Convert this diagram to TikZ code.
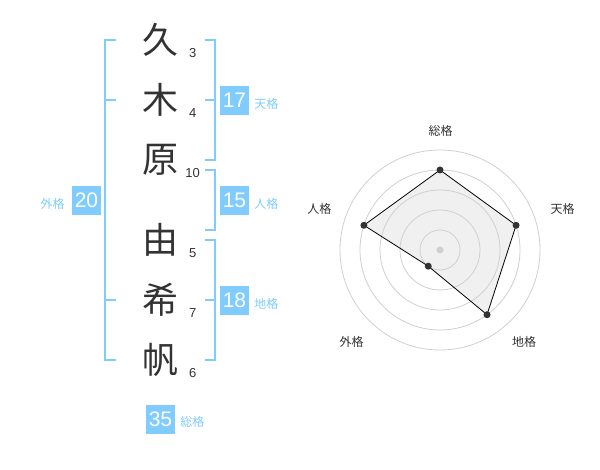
\documentclass[tikz,border=0pt]{standalone}
\usepackage{fontspec}
\setmainfont{Liberation Sans}
\newfontfamily\jp{Noto Sans CJK JP}
\usetikzlibrary{positioning}
\definecolor{celeste}{HTML}{80CCFF}
\definecolor{tinta}{HTML}{333333}
\definecolor{anillo}{HTML}{D0D0D0}

\begin{document}
\begin{tikzpicture}[x=1pt, y=-1pt,
    kanji/.style={font=\jp\fontsize{36}{36}\selectfont, text=tinta, inner sep=0pt},
    trazo/.style={font=\fontsize{13}{13}\selectfont, text=tinta, inner sep=0pt},
    caja/.style={fill=celeste, text=white, minimum size=29pt, inner sep=0pt, font=\fontsize{21}{21}\selectfont},
    etiqueta/.style={font=\jp\fontsize{12}{12}\selectfont, text=celeste, inner sep=0pt, yshift=-3pt},
    llave/.style={draw=celeste, line width=2pt},
    eje/.style={font=\jp\fontsize{12}{12}\selectfont, text=tinta, inner sep=0pt}]
              \useasboundingbox[fill=white] (0,0) rectangle (600,470);
              % Nombre
              \node[kanji] (k1) at (160,40) {久};
              \node[kanji] (k2) at (160,100) {木};
              \node[kanji] (k3) at (160,160) {原};
              \node[kanji] (k4) at (160,240) {由};
              \node[kanji] (k5) at (160,300) {希};
              \node[kanji] (k6) at (160,360) {帆};
              \node[trazo] (n1) at (192.7,52.7) {3};
              \node[trazo] (n2) at (192.7,112.7) {4};
              \node[trazo] (n3) at (192.7,172.7) {10};
              \node[trazo] (n4) at (192.7,252.7) {5};
              \node[trazo] (n5) at (192.7,312.7) {7};
              \node[trazo] (n6) at (192.7,372.7) {6};

              % Llaves
              \draw[llave] (116,40) -- (105,40) -- (105,360) -- (116,360);
              \draw[llave] (105,100) -- (116,100);
              \draw[llave] (105,300) -- (116,300);
              \draw[llave] (205,40) -- (215,40) -- (215,160) -- (205,160);
              \draw[llave] (215,100) -- (205,100);
              \draw[llave] (205,170) -- (215,170) -- (215,230) -- (205,230);
              \draw[llave] (205,240) -- (215,240) -- (215,360) -- (205,360);
              \draw[llave] (215,300) -- (205,300);

              % Cajas
              \node[caja] (ten) at (234.5,100.5) {17};
              \node[caja] (jin) at (234.5,200.5) {15};
              \node[caja] (chi) at (234.5,300.5) {18};
              \node[caja] (gai) at (86.5,200.5) {20};
              \node[caja] (sou) at (160.5,419) {35};
              \node[etiqueta, right=5pt of ten] (lten) {天格};
              \node[etiqueta, right=5pt of jin] (ljin) {人格};
              \node[etiqueta, right=5pt of chi] (lchi) {地格};
              \node[etiqueta, left=7pt of gai] (lgai) {外格};
              \node[etiqueta, right=5pt of sou] (lsou) {総格};

              % Radar
              \begin{scope}[shift={(440,250)}, yscale=-1]
              \coordinate (c) at (0,0);
              \coordinate (rsou) at (90:80);
              \coordinate (rten) at (18:80);
              \coordinate (rchi) at (-54:80);
              \coordinate (rgai) at (-126:20);
              \coordinate (rjin) at (162:80);
              \fill[black!6] (rsou) -- (rten) -- (rchi) -- (rgai) -- (rjin) -- cycle;
              \foreach \r in {20,40,...,100}
                \draw[anillo, line width=0.8pt] (c) circle (\r);
              \draw[black, line width=0.8pt] (rsou) -- (rten) -- (rchi) -- (rgai) -- (rjin) -- cycle;
              \fill[anillo] (c) circle (3.5);
              \foreach \p in {rsou,rten,rchi,rgai,rjin}
                \fill[tinta] (\p) circle (3.5);
              \end{scope}
              \node[eje] (esou) at (440.7,130.7) {総格};
              \node[eje] (eten) at (562.7,209) {天格};
              \node[eje] (echi) at (524,341.7) {地格};
              \node[eje] (egai) at (351.7,341.7) {外格};
              \node[eje] (ejin) at (319.3,209) {人格};
            \end{tikzpicture}
\end{document}
